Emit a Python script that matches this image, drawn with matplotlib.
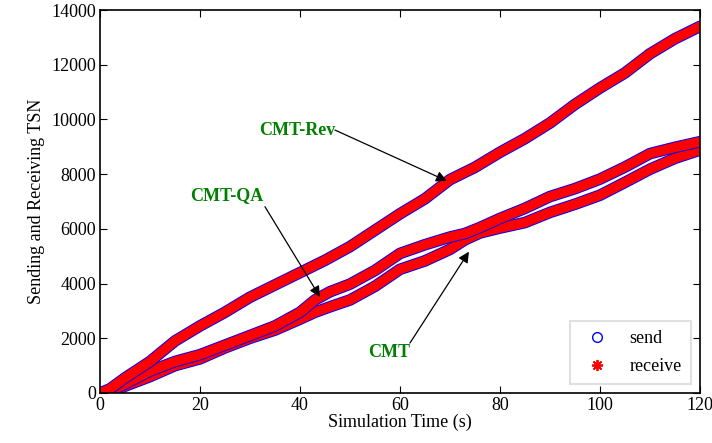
import matplotlib
matplotlib.use('Agg')
import matplotlib.pyplot as plt
from matplotlib.lines import Line2D

plt.rcParams['font.family'] = ['Liberation Serif', 'DejaVu Serif']

# simulation time (s) and TSN
t_rev = [0, 2, 5, 10, 15, 20, 25, 30, 35, 40, 45, 50, 55, 60, 65, 70,
         75, 80, 85, 90, 95, 100, 105, 110, 115, 120]
cmt_rev = [0, 150, 550, 1150, 1900, 2450, 2950, 3500, 3950, 4400, 4850, 5350,
           5950, 6550, 7100, 7800, 8250, 8800, 9300, 9870, 10550, 11150,
           11700, 12400, 12950, 13400]

t_low = [0, 2, 5, 10, 15, 20, 25, 30, 35, 40, 43, 46, 50, 55, 60, 65, 70,
         73, 76, 80, 85, 90, 95, 100, 105, 110, 115, 120]
cmt_qa = [0, 60, 330, 800, 1150, 1400, 1750, 2100, 2450, 2950, 3400, 3700,
          3980, 4480, 5100, 5420, 5700, 5830, 6050, 6380, 6750, 7180, 7470,
          7820, 8260, 8750, 8980, 9185]
cmt = [0, 0, 250, 600, 1000, 1250, 1650, 2000, 2300, 2700, 2950, 3150, 3400,
       3900, 4520, 4830, 5250, 5600, 5850, 6030, 6230, 6600, 6900, 7230,
       7700, 8180, 8580, 8880]

series = [(t_low, cmt), (t_low, cmt_qa), (t_rev, cmt_rev)]

fig = plt.figure(figsize=(7.12, 4.43), dpi=100)
ax = fig.add_axes([0.1404, 0.1129, 0.8427, 0.8645])

for tt, yy in series:
    # send (blue o) underneath, receive (red *) on top
    ax.plot(tt, yy, color='blue', lw=8.4, solid_capstyle='round', solid_joinstyle='round')
    ax.plot(tt, yy, color='red', lw=7.0, solid_capstyle='round', solid_joinstyle='round')

ax.set_xlim(0, 120)
ax.set_ylim(0, 14000)
ax.set_xticks(range(0, 121, 20))
ax.set_yticks(range(0, 14001, 2000))
ax.tick_params(direction='in', top=True, right=True, length=5, labelsize=13, pad=3)
for s in ax.spines.values():
    s.set_linewidth(1.2)

ax.set_xlabel('Simulation Time (s)', fontsize=13, labelpad=0)
ax.set_ylabel('Sending and Receiving TSN', fontsize=13, labelpad=4)

green = '#008000'
arrow = dict(arrowstyle='-|>', color='black', lw=0.9, mutation_scale=16, shrinkA=0, shrinkB=0)

ax.text(47, 9612, 'CMT-Rev', color=green, fontsize=13, fontweight='bold', ha='right', va='center')
ax.annotate('', xy=(69.4, 7750), xytext=(47, 9612), arrowprops=arrow)

ax.text(32.7, 7212, 'CMT-QA', color=green, fontsize=13, fontweight='bold', ha='right', va='center')
ax.annotate('', xy=(44, 3510), xytext=(33, 6810), arrowprops=arrow)

ax.text(53.7, 1462, 'CMT', color=green, fontsize=13, fontweight='bold', ha='left', va='center')
ax.annotate('', xy=(73.8, 5165), xytext=(62, 1827), arrowprops=arrow)

handles = [Line2D([], [], ls='none', marker='o', mfc='none', mec='blue', ms=7),
           Line2D([], [], ls='none', marker=(8, 2, 0), mec='red', mew=1.3, ms=8)]
leg = ax.legend(handles, ['send', 'receive'], loc='lower right', fontsize=13,
                fancybox=False, framealpha=1, edgecolor='#e0e0e0',
                borderaxespad=0.5, handletextpad=0.8, labelspacing=0.6,
                borderpad=0.5)
leg.get_frame().set_linewidth(1.5)

fig.savefig('out.png', dpi=100)
